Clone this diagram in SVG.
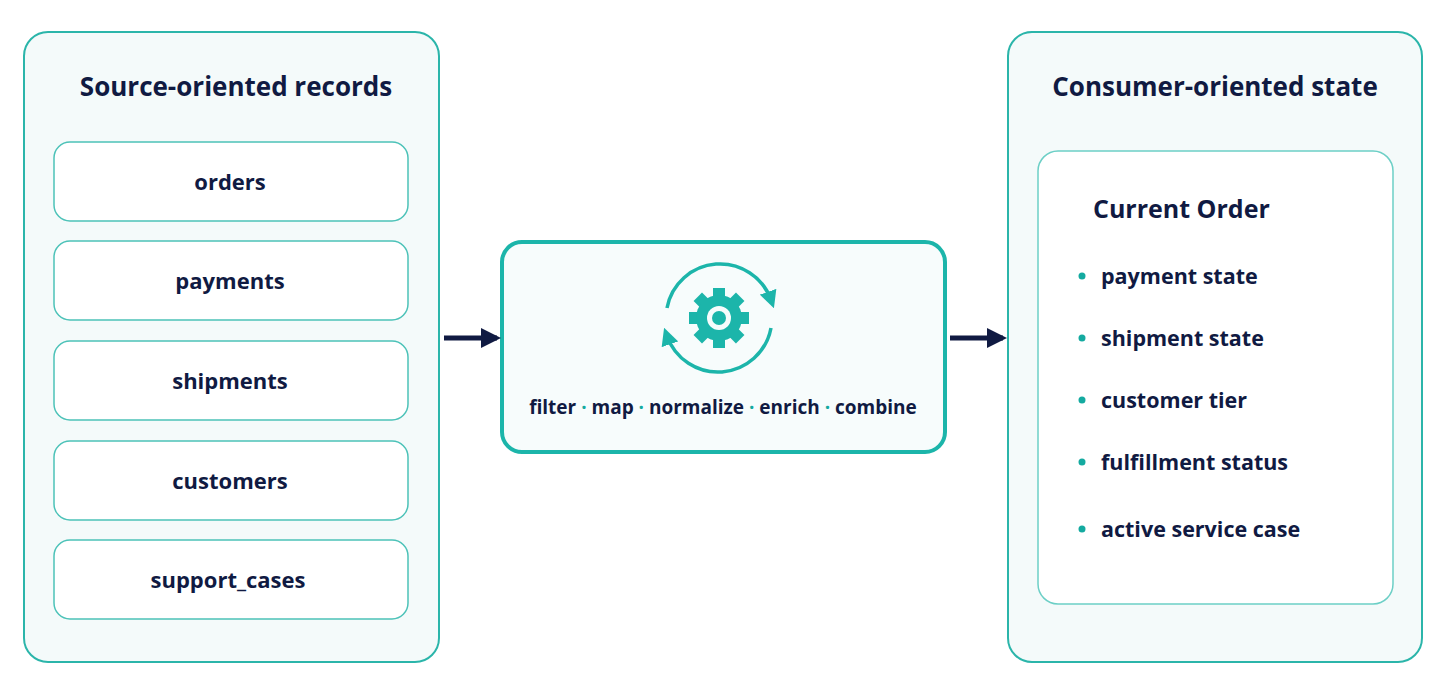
<svg xmlns="http://www.w3.org/2000/svg" width="1448" height="698" viewBox="0 0 1448 698">
<style>
.panel{fill:#f4fafa;stroke:#2bb5aa;stroke-width:2}
.item{fill:#fff;stroke:#4cc2b8;stroke-width:1.5}
.t{font-family:"Open Sans","Liberation Sans",sans-serif;fill:#101a42;font-weight:700}
.title{font-size:26px}
.lbl{font-size:22px;text-anchor:middle}
.bul{font-size:21.5px}
.dot{fill:#14aaa0}
.conn{stroke:#101a42;stroke-width:5}
</style>
<defs>
<marker id="ah" viewBox="0 0 10 10" refX="8" refY="5" markerWidth="4" markerHeight="4.4" orient="auto"><path d="M0,0L10,5L0,10z" fill="#101a42"/></marker>
<marker id="tah" viewBox="0 0 10 10" refX="5" refY="5" markerWidth="5" markerHeight="5" orient="auto"><path d="M0,0L10,5L0,10z" fill="#1cb5aa"/></marker>
</defs>
<rect width="1448" height="698" fill="#fff"/>
<g id="source">
<rect class="panel" x="24" y="32" width="415" height="630" rx="24"/>
<text class="t title" x="236" y="96" text-anchor="middle">Source-oriented records</text>
<rect class="item" x="54" y="142" width="354" height="79" rx="16"/><text class="t lbl" x="230" y="190">orders</text>
<rect class="item" x="54" y="241" width="354" height="79" rx="16"/><text class="t lbl" x="230" y="289">payments</text>
<rect class="item" x="54" y="341" width="354" height="79" rx="16"/><text class="t lbl" x="230" y="389">shipments</text>
<rect class="item" x="54" y="441" width="354" height="79" rx="16"/><text class="t lbl" x="230" y="489">customers</text>
<rect class="item" x="54" y="540" width="354" height="79" rx="16"/><text class="t lbl" x="228" y="588">support_cases</text>
</g>
<g id="process">
<rect x="502" y="242" width="443" height="210" rx="20" fill="#f7fcfc" stroke="#1cb5aa" stroke-width="4"/>
<g fill="#1cb5aa">
<g transform="translate(719,318)">
<rect x="-6" y="-30" width="12" height="60"/>
<rect x="-6" y="-30" width="12" height="60" transform="rotate(45)"/>
<rect x="-6" y="-30" width="12" height="60" transform="rotate(90)"/>
<rect x="-6" y="-30" width="12" height="60" transform="rotate(135)"/>
<circle r="23"/>
<circle r="12" fill="#f7fcfc"/>
<circle r="7"/>
</g>
</g>
<path d="M667,308 A54,54 0 0 1 771,300" fill="none" stroke="#1cb5aa" stroke-width="3.5" marker-end="url(#tah)"/>
<path d="M771,328 A54,54 0 0 1 667,336" fill="none" stroke="#1cb5aa" stroke-width="3.5" marker-end="url(#tah)"/>
<text class="t" font-size="19" x="723" y="414" text-anchor="middle">filter <tspan fill="#14aaa0">·</tspan> map <tspan fill="#14aaa0">·</tspan> normalize <tspan fill="#14aaa0">·</tspan> enrich <tspan fill="#14aaa0">·</tspan> combine</text>
</g>
<g id="consumer">
<rect class="panel" x="1008" y="32" width="414" height="630" rx="24"/>
<text class="t title" x="1215" y="96" text-anchor="middle">Consumer-oriented state</text>
<rect x="1038" y="151" width="355" height="453" rx="20" fill="#fff" stroke="#6ccfc6" stroke-width="1.5"/>
<text class="t" font-size="25" x="1093" y="218">Current Order</text>
<circle class="dot" cx="1082" cy="276" r="3.5"/><text class="t bul" x="1101" y="284">payment state</text>
<circle class="dot" cx="1082" cy="338" r="3.5"/><text class="t bul" x="1101" y="346">shipment state</text>
<circle class="dot" cx="1082" cy="400" r="3.5"/><text class="t bul" x="1101" y="408">customer tier</text>
<circle class="dot" cx="1082" cy="462" r="3.5"/><text class="t bul" x="1101" y="470">fulfillment status</text>
<circle class="dot" cx="1082" cy="529" r="3.5"/><text class="t bul" x="1101" y="537">active service case</text>
</g>
<g id="connectors">
<line class="conn" x1="444" y1="338" x2="497" y2="338" marker-end="url(#ah)"/>
<line class="conn" x1="950" y1="338" x2="1003" y2="338" marker-end="url(#ah)"/>
</g>
</svg>
